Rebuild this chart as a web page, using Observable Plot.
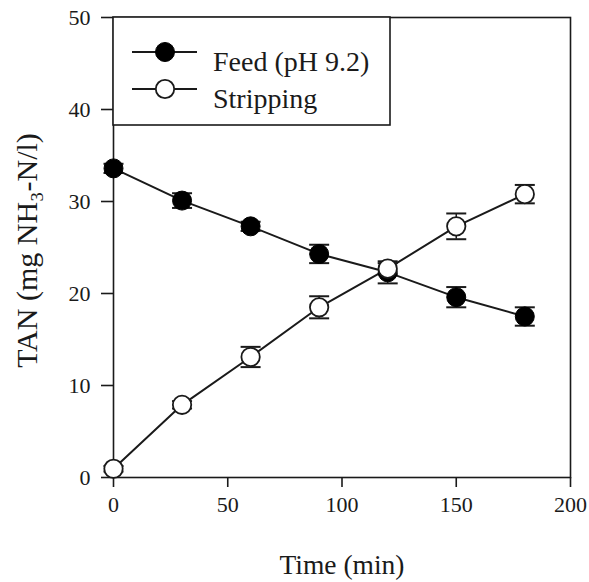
<!DOCTYPE html>
<html>
<head>
<meta charset="utf-8">
<script src="https://cdn.jsdelivr.net/npm/d3@7"></script>
<script src="https://cdn.jsdelivr.net/npm/@observablehq/plot@0.6"></script>
<style>
  html, body { margin: 0; padding: 0; background: #fff; }
</style>
</head>
<body>
<div id="chart"></div>
<script>
// ---- data ----
const time = [0, 30, 60, 90, 120, 150, 180];
const feed = [33.6, 30.1, 27.3, 24.3, 22.3, 19.6, 17.5];
const feedErr = [0.5, 0.8, 0.5, 1.0, 1.2, 1.1, 1.0];
const stripping = [0.95, 7.9, 13.1, 18.5, 22.7, 27.3, 30.8];
const strippingErr = [0.3, 0.4, 1.1, 1.2, 0.6, 1.4, 1.0];
const seriesNames = ["Feed (pH 9.2)", "Stripping"];
const xTicks = [0, 50, 100, 150, 200];
const yTicks = [0, 10, 20, 30, 40, 50];
const xTitle = "Time (min)";
const yTitle = "TAN (mg NH\u2083-N/l)";

const feedRows = time.map((t, i) => ({t, v: feed[i], e: feedErr[i]}));
const stripRows = time.map((t, i) => ({t, v: stripping[i], e: strippingErr[i]}));
const allRows = feedRows.concat(stripRows);
const capRows = allRows.flatMap(d => [{t: d.t, y: d.v - d.e}, {t: d.t, y: d.v + d.e}]);

const hline = {
  draw(context, size) {
    const r = Math.sqrt(size / Math.PI);
    context.moveTo(-r, 0);
    context.lineTo(r, 0);
  }
};

const font = "'Liberation Serif', 'Times New Roman', serif";
const ink = "#1a1a1a";

const chart = Plot.plot({
  width: 589,
  height: 582,
  marginLeft: 113,
  marginRight: 19,
  marginTop: 17,
  marginBottom: 105,
  x: {domain: [0, 200]},
  y: {domain: [0, 50]},
  style: {fontFamily: font, background: "#fff", color: ink},
  marks: [
    Plot.frame({stroke: ink, strokeWidth: 1.6}),
    Plot.axisX({ticks: xTicks, tickSize: 10, tickPadding: 9, fontSize: 22, label: null, strokeWidth: 1.6}),
    Plot.axisY({ticks: yTicks, tickSize: 12, tickPadding: 11, fontSize: 22, label: null, strokeWidth: 1.6}),
    Plot.ruleX(allRows, {x: "t", y1: d => d.v - d.e, y2: d => d.v + d.e, stroke: ink, strokeWidth: 1.5}),
    Plot.dot(capRows, {x: "t", y: "y", r: 10, symbol: hline, fill: "none", stroke: ink, strokeWidth: 2}),
    Plot.line(feedRows, {x: "t", y: "v", stroke: ink, strokeWidth: 2}),
    Plot.line(stripRows, {x: "t", y: "v", stroke: ink, strokeWidth: 2}),
    Plot.dot(feedRows, {x: "t", y: "v", r: 9.5, fill: "#000", stroke: "#000", strokeWidth: 1}),
    Plot.dot(stripRows, {x: "t", y: "v", r: 9.2, fill: "#fff", stroke: ink, strokeWidth: 1.8}),
    Plot.text([xTitle], {frameAnchor: "bottom", lineAnchor: "middle", textAnchor: "middle", dy: 88, fontSize: 27.5, fill: ink}),
    Plot.text([yTitle], {frameAnchor: "left", lineAnchor: "middle", textAnchor: "middle", rotate: -90, dx: -86, dy: 3, fontSize: 30, fill: ink})
  ]
});

// legend inside the plot box, top-left
const svg = d3.select(chart);
const lg = svg.append("g").attr("font-family", font).attr("fill", ink).attr("text-anchor", "start");
lg.append("rect").attr("x", 113).attr("y", 17).attr("width", 277).attr("height", 108)
  .attr("fill", "#fff").attr("stroke", ink).attr("stroke-width", 1.6);
const legendY = [52, 89];
seriesNames.forEach((name, i) => {
  const y = legendY[i];
  lg.append("line").attr("x1", 132).attr("x2", 197).attr("y1", y).attr("y2", y)
    .attr("stroke", ink).attr("stroke-width", 2);
  lg.append("circle").attr("cx", 165).attr("cy", y).attr("r", i === 0 ? 9.5 : 9.2)
    .attr("fill", i === 0 ? "#000" : "#fff").attr("stroke", i === 0 ? "#000" : ink)
    .attr("stroke-width", i === 0 ? 1 : 1.8);
  lg.append("text").attr("x", 213).attr("y", y + 19).attr("font-size", 28)
    .attr("text-anchor", "start").text(name);
});

document.getElementById("chart").appendChild(chart);
</script>
</body>
</html>
